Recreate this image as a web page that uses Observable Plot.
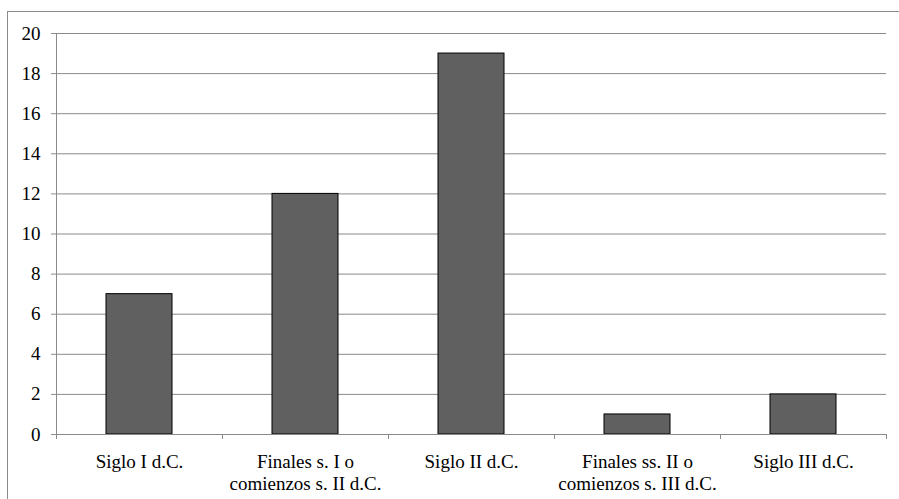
<!DOCTYPE html>
<html>
<head>
<meta charset="utf-8">
<script src="https://cdn.jsdelivr.net/npm/d3@7"></script>
<script src="https://cdn.jsdelivr.net/npm/@observablehq/plot@0.6"></script>
<style>
  html, body { margin: 0; padding: 0; background: #fff; overflow: hidden; }
  #wrap { position: relative; width: 899px; height: 499px; }
  #frame { position: absolute; left: 7px; top: 11px; width: 900px; height: 500px;
           border-top: 1px solid #8a8a8a; border-left: 1px solid #8a8a8a; }
  #chart { position: absolute; left: 0; top: 0; }
  #chart svg text { font-family: "Liberation Serif", "Times New Roman", serif !important; font-size: 19px !important; }
</style>
</head>
<body>
<div id="wrap"><div id="frame"></div><div id="chart"></div></div>
<script>
const categories = [
  "Siglo I d.C.",
  "Finales s. I o\ncomienzos s. II d.C.",
  "Siglo II d.C.",
  "Finales ss. II o\ncomienzos s. III d.C.",
  "Siglo III d.C."
];
const values = [7, 12, 19, 1, 2];
const yTicks = [0, 2, 4, 6, 8, 10, 12, 14, 16, 18, 20];

const data = categories.map((c, i) => ({category: c, value: values[i]}));
const gray = "#8a8a8a";
const font = "Liberation Serif, Times New Roman, serif";

const chart = Plot.plot({
  width: 899,
  height: 499,
  marginLeft: 56,
  marginRight: 13,
  marginTop: 33,
  marginBottom: 65,
  style: {fontFamily: font, fontSize: "19px", color: "#000", background: "transparent"},
  x: {domain: categories, paddingInner: 0.6, paddingOuter: 0.3, label: null},
  y: {domain: [0, 20], label: null},
  marks: [
    Plot.gridY(yTicks, {stroke: gray, strokeOpacity: 1}),
    Plot.ruleX([categories[0]], {dx: -83, stroke: gray}),
    Plot.axisY(yTicks, {tickSize: 5, tickPadding: 11, stroke: gray, fill: "#000", label: null, fontSize: 19}),
    Plot.axisX({ticks: categories, tickSize: 5, dx: -83, text: null, stroke: gray, label: null}),
    Plot.axisX({ticks: [categories[categories.length - 1]], tickSize: 5, dx: 83, text: null, stroke: gray, label: null}),
    Plot.axisX({tickSize: 0, tickPadding: 18, lineHeight: 1.15, fill: "#000", label: null, fontSize: 19}),
    Plot.barY(data, {x: "category", y: "value", fill: "#606060", stroke: "#000", strokeWidth: 1}),
    Plot.ruleY([0], {stroke: gray})
  ]
});
document.getElementById("chart").appendChild(chart);
</script>
</body>
</html>
